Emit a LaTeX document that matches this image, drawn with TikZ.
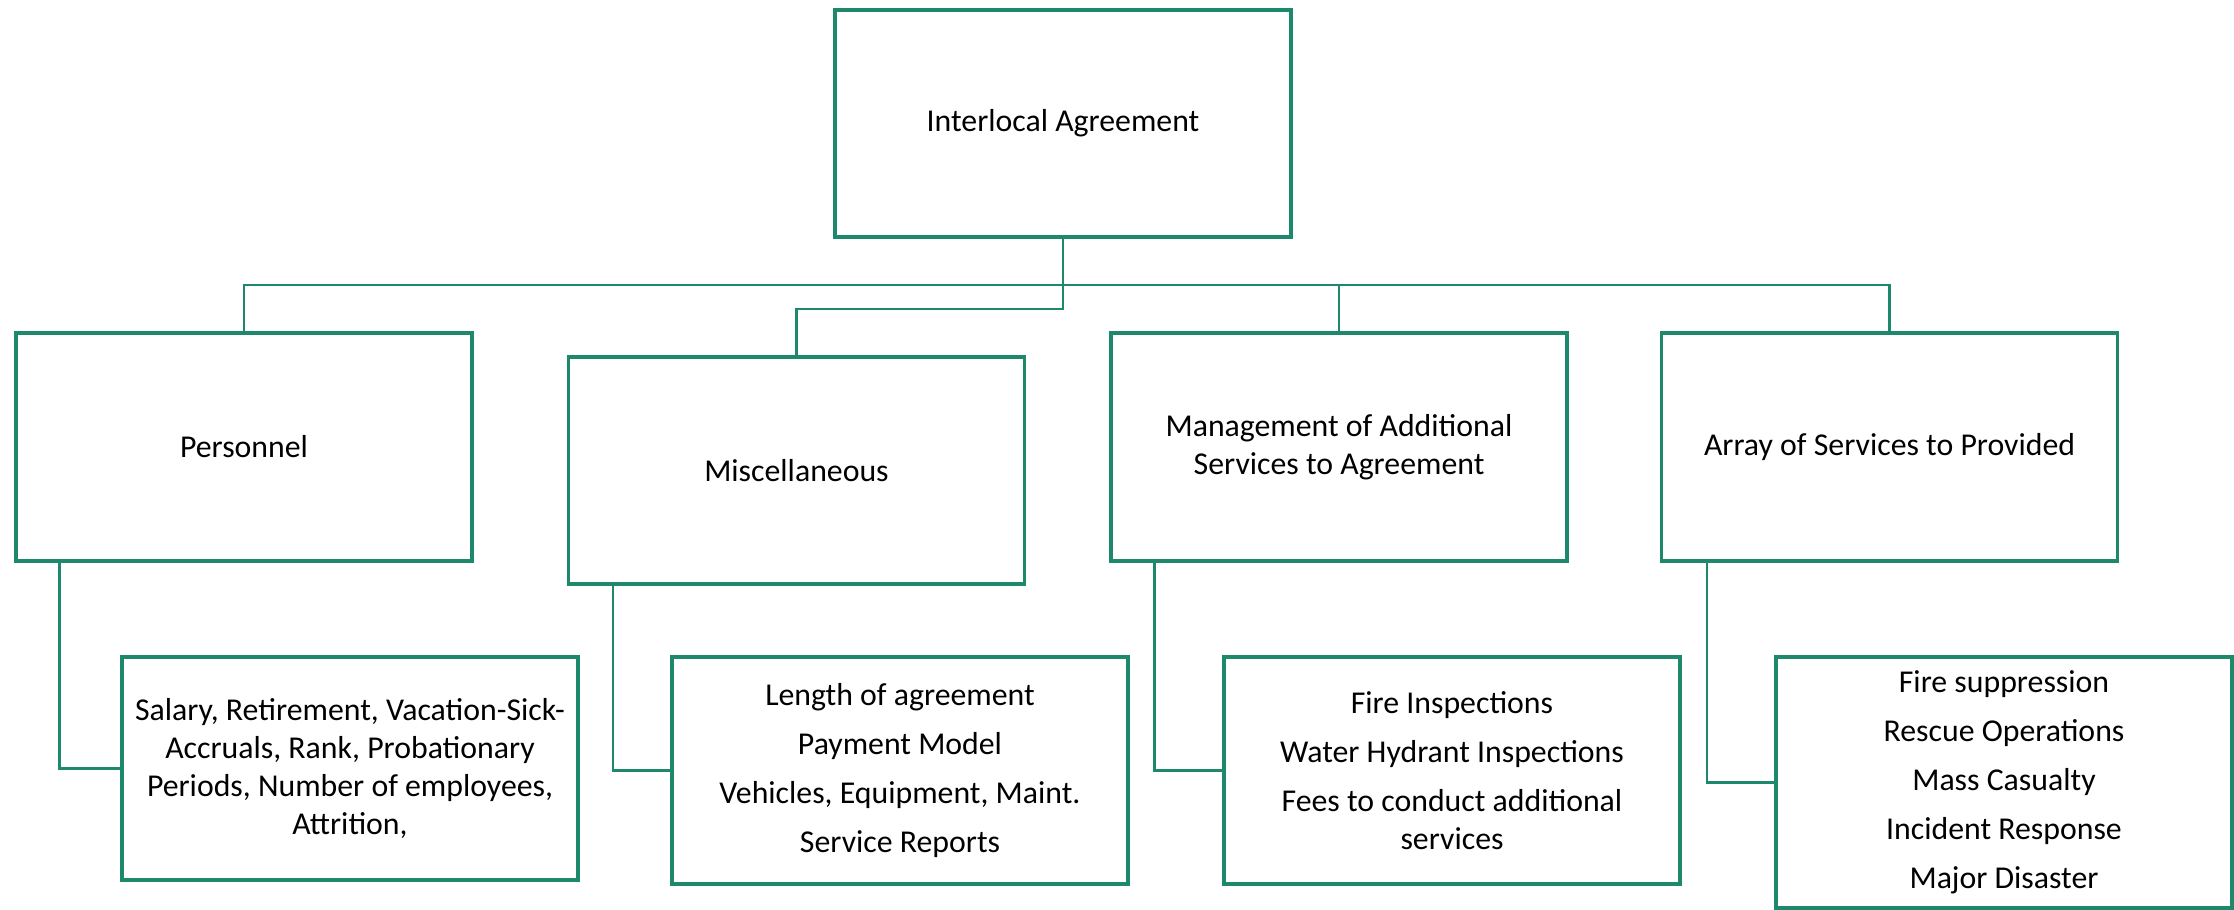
\documentclass[tikz,border=0pt]{standalone}
\usepackage{fontspec}
\setmainfont{Carlito}
\definecolor{boxgreen}{RGB}{30,136,108}
\begin{document}
\begin{tikzpicture}[x=0.5pt,y=-0.5pt,
  box/.style={draw=boxgreen, line width=1.6pt, rectangle, minimum width=228pt,
    align=center, inner sep=4pt, text=black,
    font=\fontsize{15.9}{19}\selectfont},
  link/.style={draw=boxgreen, line width=1.1pt}]
\path[use as bounding box] (0,0) rectangle (2234,910);
% top level
\node[box, minimum height=113.5pt] (top) at (1063,123.5) {Interlocal Agreement};
\node[box, minimum height=114pt] (pers) at (244,447) {Personnel};
\node[box, minimum height=113.5pt] (misc) at (796.5,470.5) {Miscellaneous};
\node[box, minimum height=114pt] (mgmt) at (1339,447) {Management of Additional\\Services to Agreement};
\node[box, minimum height=114pt] (arr) at (1889.5,447) {Array of Services to Provided};
% children
\node[box, minimum height=111.5pt] (pchild) at (350,768.5)
  {Salary, Retirement, Vacation-Sick-\\Accruals, Rank, Probationary\\Periods, Number of employees,\\Attrition,};
\node[box, minimum height=113.5pt] (mchild) at (900,770.5)
  {Length of agreement\\[5.5pt]Payment Model\\[5.5pt]Vehicles, Equipment, Maint.\\[5.5pt]Service Reports};
\node[box, minimum height=113.5pt] (gchild) at (1452,770.5)
  {Fire Inspections\\[5.5pt]Water Hydrant Inspections\\[5.5pt]Fees to conduct additional\\services};
\node[box, minimum height=125.5pt] (achild) at (2004,782.5)
  {Fire suppression\\[5.5pt]Rescue Operations\\[5.5pt]Mass Casualty\\[5.5pt]Incident Response\\[5.5pt]Major Disaster};
% connectors
\coordinate (bus) at (1063,285);
\coordinate (mbend) at (1063,309);
\draw[link] (top.south) -- (mbend) -| (misc.north);
\draw[link] (pers.north) |- (bus) -| (arr.north);
\draw[link] (bus) -| (mgmt.north);
\draw[link] ([xshift=22.5pt]pers.south west) |- (pchild.west);
\draw[link] ([xshift=23pt]misc.south west) |- (mchild.west);
\draw[link] ([xshift=22.5pt]mgmt.south west) |- (gchild.west);
\draw[link] ([xshift=23.5pt]arr.south west) |- (achild.west);
\end{tikzpicture}
\end{document}
